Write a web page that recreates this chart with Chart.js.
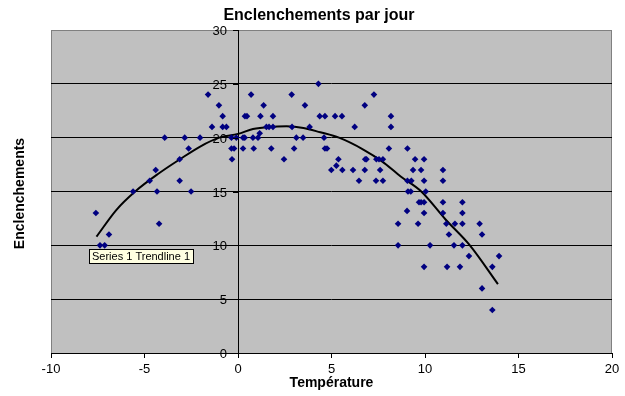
<!DOCTYPE html>
<html>
<head>
<meta charset="utf-8">
<script src="https://cdn.jsdelivr.net/npm/chart.js@4"></script>
<style>
  html, body { margin: 0; padding: 0; background: #fff; }
</style>
</head>
<body>
<canvas id="chart" width="625" height="396"></canvas>
<script>
// Température (x) et enclenchements (y)
const temperature = [
    -7.6, -7.38, -7.13, -6.9, -5.61, -4.72, -4.4, -4.33, -4.22, -3.92,
    -3.12, -3.12, -2.85, -2.64, -2.51, -2.03, -1.6, -1.39, -1.02, -0.82,
    -0.82, -0.62, -0.35, -0.09, -0.35, -0.21, -0.32,
    0.27, 0.36, 0.27, 0.37, 0.48, 0.7, 0.8, 0.84, 1.07, 1.16,
    1.2, 1.37, 1.52, 1.66, 1.78, 1.87, 1.87, 2.46, 2.87, 2.89,
    3.0, 3.12, 3.48, 3.58, 3.83, 4.3, 4.37, 4.65, 4.6, 4.65,
    4.76, 4.99, 5.19, 5.26, 5.37, 5.56, 5.58, 6.15, 6.24, 6.47,
    6.78, 6.78, 6.8, 6.87, 7.27, 7.38, 7.4, 7.54, 7.6, 7.75,
    7.75, 8.07, 8.18, 8.18, 8.56, 8.56, 9.04, 9.06, 9.06, 9.09,
    9.24, 9.27, 9.36, 9.47, 9.63, 9.68,
    9.95, 9.79, 10.96, 9.95, 10.96, 10.04, 9.79, 9.95, 10.96, 12.0,
    9.95, 10.96, 12.0, 11.14, 11.6, 12.0, 12.92, 13.05, 11.28, 10.27,
    11.55, 12.0, 12.35, 13.96, 9.95, 11.18, 11.87, 13.6, 13.05, 13.6
];
const enclenchements = [
    13, 10, 10, 11, 15, 16, 17, 15, 12, 20,
    16, 18, 20, 19, 15, 20, 24, 21, 23, 22,
    21, 21, 20, 20, 19, 19, 18,
    20, 20, 19, 22, 22, 24, 20, 19, 20, 20.4,
    22, 23, 21, 21, 19, 22, 21, 18, 24, 21,
    19, 20, 20, 23, 21, 25, 22, 22, 20, 19,
    19, 17, 22, 17.4, 18, 22, 17, 17, 21, 16,
    23, 17, 18, 18, 24, 16, 18, 18, 17, 18,
    16, 19, 22, 21, 12, 10, 13.2, 19, 16, 15,
    15, 16, 17, 18, 12, 14,
    18, 17, 17, 16, 16, 15, 14, 14, 14, 14,
    13, 13, 13, 12, 12, 12, 12, 11, 11, 10,
    10, 10, 9, 9, 8, 8, 8, 8, 6, 4
];

// Courbe de tendance (polynomiale)
const trendX = [-7.57, -6.5, -5.5, -4.3, -3.1, -2.0, -1.0, 0, 0.8, 1.7, 2.6, 3.5, 4.4, 5.4, 6.7, 7.7, 8.7, 9.8, 11.1, 12.4, 13.9];
const trendY = [10.8, 13.3, 15.0, 16.6, 18.0, 19.2, 20.0, 20.35, 20.8, 21.0, 21.05, 20.9, 20.5, 20.0, 18.9, 17.8, 16.4, 15.0, 12.4, 10.0, 6.4];

const xTicks = [-10, -5, 0, 5, 10, 15, 20];
const yTicks = [0, 5, 10, 15, 20, 25, 30];

const FONT = "'Liberation Sans', Arial, sans-serif";

const points = temperature.map((t, i) => ({ x: t, y: enclenchements[i] }));
const trend = trendX.map((t, i) => ({ x: t, y: trendY[i] }));

// fond gris de la zone de tracé + titres + étiquette de la tendance
const decor = {
    id: 'decor',
    beforeDraw(chart) {
        const { ctx, chartArea: a } = chart;
        ctx.save();
        ctx.fillStyle = '#c0c0c0';
        ctx.fillRect(a.left, a.top, a.right - a.left, a.bottom - a.top);
        ctx.strokeStyle = '#808080';
        ctx.lineWidth = 1;
        ctx.strokeRect(a.left + 0.5, a.top + 0.5, a.right - a.left - 1, a.bottom - a.top);
        ctx.restore();
    },
    afterDraw(chart) {
        const { ctx, chartArea: a } = chart;
        const xs = chart.scales.x, ys = chart.scales.y;
        ctx.save();
        ctx.fillStyle = '#000';
        ctx.textAlign = 'center';
        ctx.textBaseline = 'middle';
        ctx.font = 'bold 16px ' + FONT;
        ctx.fillText('Enclenchements par jour', 319, 16);

        // graduations de l'axe vertical (l'axe croise en x = 0)
        const ax = Math.round(xs.getPixelForValue(0));
        ctx.font = '13px ' + FONT;
        ctx.textAlign = 'right';
        ctx.strokeStyle = '#000';
        ctx.lineWidth = 1;
        yTicks.forEach(v => {
            const py = Math.round(ys.getPixelForValue(v));
            ctx.beginPath();
            ctx.moveTo(ax - 5, py + 0.5);
            ctx.lineTo(ax, py + 0.5);
            ctx.stroke();
            ctx.fillText(String(v), ax - 11, py + 1);
        });

        ctx.textAlign = 'center';
        ctx.translate(20, (a.top + a.bottom) / 2 + 2);
        ctx.rotate(-Math.PI / 2);
        ctx.font = 'bold 14px ' + FONT;
        ctx.fillText('Enclenchements', 0, 0);
        ctx.restore();

        // étiquette "Series 1 Trendline 1" près du début de la courbe
        const sx = xs.getPixelForValue(trendX[0]);
        const sy = ys.getPixelForValue(trendY[0]);
        const bx = Math.round(sx) - 7, by = Math.round(sy) + 12;
        ctx.save();
        ctx.font = '11px ' + FONT;
        const w = Math.ceil(ctx.measureText('Series 1 Trendline 1').width) + 6;
        ctx.fillStyle = '#ffffe1';
        ctx.fillRect(bx, by, w, 15);
        ctx.strokeStyle = '#000';
        ctx.lineWidth = 1;
        ctx.strokeRect(bx + 0.5, by + 0.5, w - 1, 14);
        ctx.fillStyle = '#000';
        ctx.textBaseline = 'middle';
        ctx.fillText('Series 1 Trendline 1', bx + 3, by + 8);
        ctx.restore();
    }
};

new Chart(document.getElementById('chart'), {
    type: 'scatter',
    data: {
        datasets: [
            {
                label: 'Series 1',
                data: points,
                pointStyle: 'rectRot',
                pointRadius: 3.3,
                backgroundColor: '#000080',
                borderColor: '#000080',
                borderWidth: 0
            },
            {
                label: 'Series 1 Trendline 1',
                data: trend,
                showLine: true,
                pointRadius: 0,
                borderColor: '#000',
                borderWidth: 2,
                tension: 0.4,
                cubicInterpolationMode: 'monotone'
            }
        ]
    },
    options: {
        responsive: false,
        animation: false,
        layout: { padding: { left: 51, right: 13, top: 30, bottom: 0 } },
        plugins: {
            legend: { display: false },
            tooltip: { enabled: false },
            title: { display: false }
        },
        scales: {
            x: {
                type: 'linear',
                min: -10,
                max: 20,
                afterBuildTicks: s => { s.ticks = xTicks.map(v => ({ value: v })); },
                afterFit: s => { s.height = 43; },
                grid: { drawOnChartArea: false, drawTicks: true, tickLength: 5, color: '#000' },
                border: { color: '#000' },
                ticks: { color: '#000', padding: 4, font: { family: FONT, size: 13 } },
                title: {
                    display: true,
                    text: 'Température',
                    color: '#000',
                    font: { family: FONT, size: 14, weight: 'bold' },
                    padding: { top: 0, bottom: 4.6 }
                }
            },
            y: {
                type: 'linear',
                position: { x: 0 },
                min: 0,
                max: 30,
                afterBuildTicks: s => { s.ticks = yTicks.map(v => ({ value: v })); },
                grid: {
                    color: c => (c.tick && c.tick.value === 30 ? '#808080' : '#000'),
                    drawTicks: false
                },
                border: { color: '#000' },
                ticks: { display: false }
            }
        }
    },
    plugins: [decor]
});
</script>
</body>
</html>
